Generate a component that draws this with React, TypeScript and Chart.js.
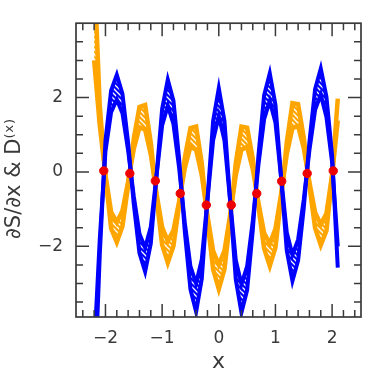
import React, { useEffect, useRef } from "react";
import { Chart, registerables } from "chart.js";

Chart.register(...registerables);

// sample positions along x
const xs = [
  -2.2, -2.1, -2.0, -1.9, -1.8, -1.7, -1.6, -1.5, -1.4, -1.3, -1.2, -1.1, -1.0, -0.9, -0.8,
  -0.7, -0.6, -0.5, -0.4, -0.3, -0.2, -0.1, 0.0, 0.1, 0.2, 0.3, 0.4, 0.5, 0.6, 0.7, 0.8,
  0.9, 1.0, 1.1, 1.2, 1.3, 1.4, 1.5, 1.6, 1.7, 1.8, 1.9, 2.0, 2.1,
];

// dS/dx band (blue): outer and inner edge
const blueOuter = [
  -6.2, -2.21, 0.84, 2.19, 2.61, 2.1, 0.78, -0.86, -2.18, -2.68, -1.92, -0.12, 1.69, 2.48, 1.91,
  0.35, -1.6, -3.16, -3.76, -2.87, -0.75, 1.37, 2.25, 1.37, -0.76, -2.89, -3.78, -3.18, -1.56, 0.44, 2.06,
  2.65, 1.81, -0.15, -2.11, -2.93, -2.38, -0.96, 0.81, 2.23, 2.78, 2.02, 0.44, -2.57,
];
const blueInner = [
  -4.8, -1.79, 0.56, 1.61, 1.95, 1.58, 0.58, -0.66, -1.66, -2.04, -1.48, -0.12, 1.25, 1.78, 1.29,
  0.11, -1.36, -2.54, -3.0, -2.35, -0.75, 0.85, 1.51, 0.85, -0.76, -2.37, -3.02, -2.54, -1.32, 0.2, 1.42,
  1.91, 1.33, -0.15, -1.63, -2.23, -1.82, -0.74, 0.59, 1.67, 2.08, 1.48, 0.26, -2.0,
];

// D(x) band (orange): outer and inner edge
const orangeOuter = [
  5.5, 1.76, -0.12, -1.52, -1.89, -1.46, -0.36, 0.9, 1.75, 1.8, 0.79, -0.67, -1.96, -2.44, -1.99,
  -0.89, 0.38, 1.18, 1.22, 0.23, -1.29, -2.62, -3.15, -2.62, -1.29, 0.23, 1.22, 1.19, 0.36, -0.93, -2.06,
  -2.53, -2.03, -0.71, 0.8, 1.85, 1.82, 0.92, -0.38, -1.51, -1.97, -1.58, -0.12, 1.97,
];
const orangeInner = [
  3.0, 1.25, -0.08, -1.08, -1.35, -1.04, -0.26, 0.62, 1.2, 1.14, 0.47, -0.57, -1.48, -1.86, -1.57,
  -0.79, 0.1, 0.68, 0.6, -0.09, -1.17, -2.12, -2.49, -2.12, -1.17, -0.09, 0.6, 0.67, 0.08, -0.83, -1.64,
  -1.93, -1.53, -0.59, 0.48, 1.18, 1.24, 0.64, -0.28, -1.09, -1.41, -1.12, -0.08, 1.38,
];

// crossing points (red)
const crossX = [-2.03, -1.57, -1.12, -0.68, -0.22, 0.22, 0.67, 1.11, 1.56, 2.02];
const crossY = [0.03, -0.04, -0.24, -0.58, -0.89, -0.89, -0.58, -0.25, -0.04, 0.03];

// axis tick labels
const xTickLabels = [-2, -1, 0, 1, 2];
const yTickLabels = [-2, 0, 2];
const yTitle = "\u2202S/\u2202x & D\u207D\u02E3\u207E";
const xTitle = "x";

const FONT = "'DejaVu Sans', sans-serif";
const AXIS_COLOR = "#3a3a3a";

function makeHatch(color: string): CanvasPattern | string {
  const c = document.createElement("canvas");
  c.width = 5;
  c.height = 5;
  const g = c.getContext("2d");
  if (!g) return color;
  g.fillStyle = color;
  g.fillRect(0, 0, 5, 5);
  g.strokeStyle = "#ffffff";
  g.lineWidth = 1.3;
  g.beginPath();
  g.moveTo(-1, -1);
  g.lineTo(6, 6);
  g.moveTo(-1, 4);
  g.lineTo(1, 6);
  g.moveTo(4, -1);
  g.lineTo(6, 1);
  g.stroke();
  return g.createPattern(c, "repeat") || color;
}

const fmt = (v: number) => (v < 0 ? "\u2212" + Math.abs(v) : String(v));

const frameTicks = {
  id: "frameTicks",
  afterDatasetsDraw(chart: any) {
    const { ctx, chartArea, scales } = chart;
    const { left, right, top, bottom } = chartArea;
    const xs_ = scales.x;
    const ys_ = scales.y;
    ctx.save();
    ctx.strokeStyle = AXIS_COLOR;
    ctx.lineWidth = 1.5;
    ctx.beginPath();
    for (let i = -12; i <= 12; i++) {
      const v = i * 0.2;
      const px = xs_.getPixelForValue(v);
      if (px < left || px > right) continue;
      const len = i % 5 === 0 ? 13 : 7;
      ctx.moveTo(px, bottom);
      ctx.lineTo(px, bottom - len);
      ctx.moveTo(px, top);
      ctx.lineTo(px, top + len);
    }
    for (let i = -8; i <= 8; i++) {
      const v = i * 0.5;
      const py = ys_.getPixelForValue(v);
      if (py < top + 0.5 || py > bottom - 0.5) continue;
      const len = i % 4 === 0 ? 13 : 7;
      ctx.moveTo(left, py);
      ctx.lineTo(left + len, py);
      ctx.moveTo(right, py);
      ctx.lineTo(right - len, py);
    }
    ctx.stroke();
    ctx.lineWidth = 1.7;
    ctx.strokeRect(left, top, right - left, bottom - top);

    // y-axis title
    ctx.fillStyle = AXIS_COLOR;
    ctx.font = `21px ${FONT}`;
    ctx.textAlign = "center";
    ctx.textBaseline = "middle";
    ctx.translate(15, 179);
    ctx.rotate(-Math.PI / 2);
    ctx.fillText(yTitle, 0, 0);
    ctx.restore();
  },
};

export default function App() {
  const ref = useRef<HTMLCanvasElement | null>(null);

  useEffect(() => {
    if (!ref.current) return;
    const blue = "#0000ff";
    const orange = "#ffa500";
    const pts = (ys: number[]) => xs.map((x, i) => ({ x, y: ys[i] }));

    const chart = new Chart(ref.current, {
      type: "scatter",
      data: {
        datasets: [
          {
            label: "cross",
            data: crossX.map((x, i) => ({ x, y: crossY[i] })),
            pointStyle: "circle",
            pointRadius: 4.2,
            pointBackgroundColor: "#ee0000",
            pointBorderColor: "#ee0000",
            pointBorderWidth: 1,
            showLine: false,
          },
          {
            label: "blueOuter",
            data: pts(blueOuter),
            showLine: true,
            borderColor: blue,
            borderWidth: 4,
            pointRadius: 0,
            fill: false,
          },
          {
            label: "blueInner",
            data: pts(blueInner),
            showLine: true,
            borderColor: blue,
            borderWidth: 4,
            pointRadius: 0,
            fill: "-1",
            backgroundColor: makeHatch(blue),
          },
          {
            label: "orangeOuter",
            data: pts(orangeOuter),
            showLine: true,
            borderColor: orange,
            borderWidth: 4.5,
            pointRadius: 0,
            fill: false,
          },
          {
            label: "orangeInner",
            data: pts(orangeInner),
            showLine: true,
            borderColor: orange,
            borderWidth: 4.5,
            pointRadius: 0,
            fill: "-1",
            backgroundColor: makeHatch(orange),
          },
        ],
      },
      options: {
        responsive: false,
        animation: false,
        layout: { padding: { top: 21, right: 21, left: 0, bottom: 0 } },
        plugins: { legend: { display: false }, tooltip: { enabled: false } },
        scales: {
          x: {
            type: "linear",
            min: -2.52,
            max: 2.51,
            grid: { display: false, drawTicks: false },
            border: { display: false },
            ticks: {
              font: { family: FONT, size: 17 },
              color: AXIS_COLOR,
              padding: 11,
              maxRotation: 0,
              callback: (v: any) => fmt(Number(v)),
            },
            afterBuildTicks: (s: any) => {
              s.ticks = xTickLabels.map((v) => ({ value: v }));
            },
            afterFit: (s: any) => {
              s.height = 65;
            },
            title: {
              display: true,
              text: xTitle,
              font: { family: FONT, size: 22 },
              color: AXIS_COLOR,
              padding: { top: 0, bottom: 7 },
            },
          },
          y: {
            type: "linear",
            min: -3.9,
            max: 4.0,
            grid: { display: false, drawTicks: false },
            border: { display: false },
            ticks: {
              font: { family: FONT, size: 17 },
              color: AXIS_COLOR,
              padding: 13,
              callback: (v: any) => fmt(Number(v)),
            },
            afterBuildTicks: (s: any) => {
              s.ticks = yTickLabels.map((v) => ({ value: v }));
            },
            afterFit: (s: any) => {
              s.width = 76;
            },
          },
        },
      },
      plugins: [frameTicks],
    });
    return () => chart.destroy();
  }, []);

  return (
    <div style={{ position: "absolute", left: 0, top: 0, width: 382, height: 382, background: "#fff" }}>
      <canvas ref={ref} width={382} height={382} />
    </div>
  );
}
